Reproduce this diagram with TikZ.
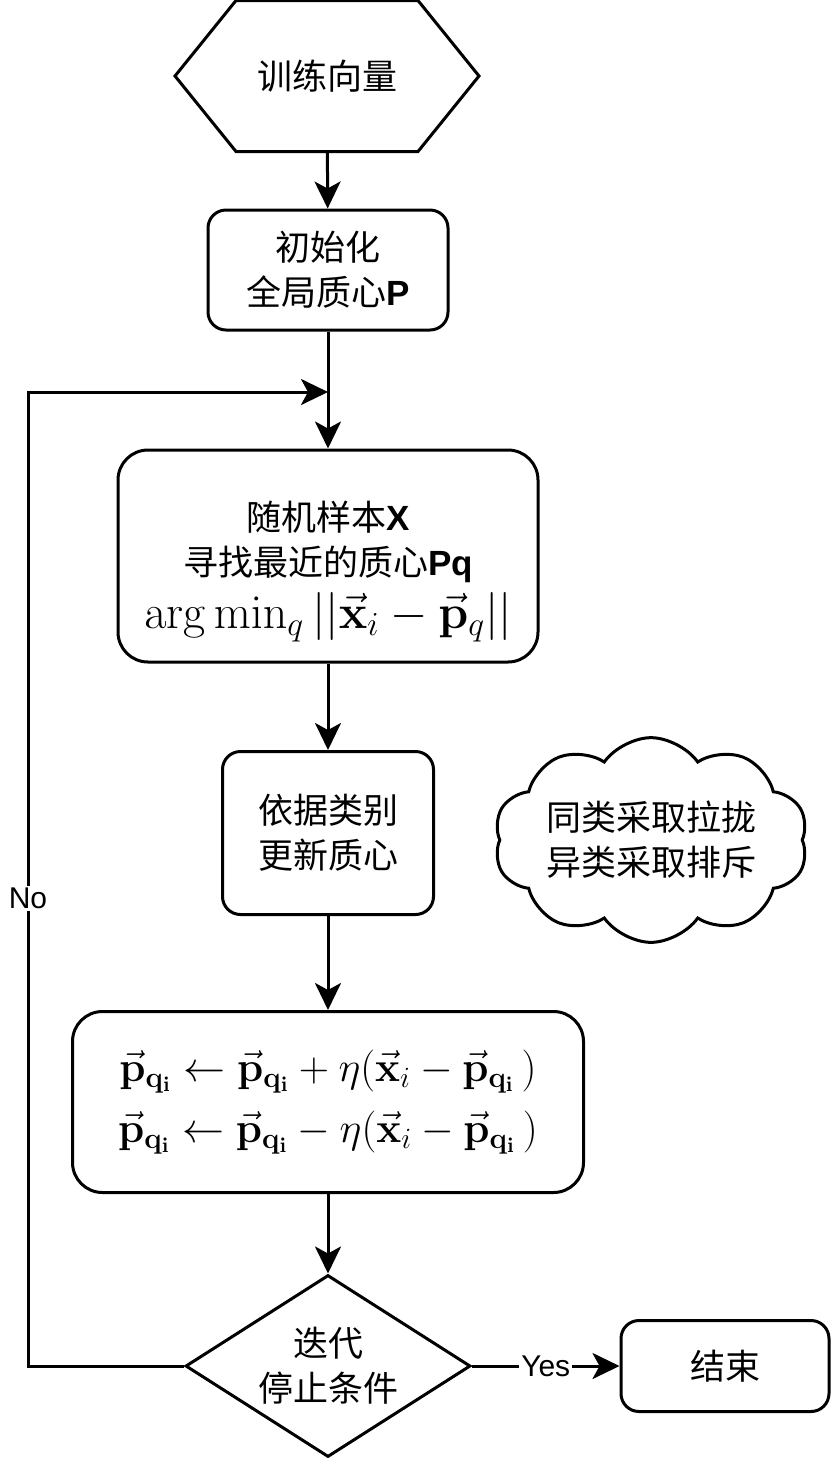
\RequirePackage{fix-cm}
\documentclass[tikz,border=0pt]{standalone}
\usepackage{amsmath}
\usepackage[no-math]{fontspec}
\setmainfont{Liberation Sans}
\newfontfamily\cjk{Noto Sans CJK SC}
\usetikzlibrary{arrows.meta,positioning,shapes.geometric,shapes.symbols}

\tikzset{
  flowbox/.style={draw,rounded corners=#1,align=center,inner sep=0pt,
    font=\fontsize{17.5}{22.5}\selectfont},
  flowbox/.default=9pt,
  flowtext/.style={font=\cjk\fontsize{17.5}{22.5}\selectfont},
  edgetext/.style={fill=white,inner sep=1pt,font=\fontsize{15}{18}\selectfont},
}

\begin{document}
\begin{tikzpicture}[x=0.5pt,y=-0.5pt,line width=1.5pt,
  >={Stealth[length=13.5pt,width=13pt,inset=3.5pt]}]
\useasboundingbox (0,0) rectangle (831,1458);

% input
\node[flowtext,minimum width=150.5pt,minimum height=74pt] (vec) at (327,76) {训练向量};
\draw (vec.west) -- ([xshift=30.5pt]vec.north west) -- ([xshift=-30.5pt]vec.north east)
  -- (vec.east) -- ([xshift=-30.5pt]vec.south east) -- ([xshift=30.5pt]vec.south west) -- cycle;

\node[flowbox,minimum width=120pt,minimum height=60pt] (init) at (328,270)
  {{\cjk 初始化}\\{\cjk 全局质心}\textbf{P}};
\node[flowbox=15pt,minimum width=210pt,minimum height=106pt] (pick) at (328,556)
  {\rule{0pt}{30pt}{\cjk 随机样本}\textbf{X}\\{\cjk 寻找最近的质心}\textbf{Pq}\\[4pt]
   {\fontsize{24}{28}\selectfont$\arg\min_q ||\vec{\mathbf{x}}_i - \vec{\mathbf{p}}_q||$}};
\node[flowbox,minimum width=105.5pt,minimum height=81.5pt] (update) at (328,833)
  {{\cjk 依据类别}\\{\cjk 更新质心}};
\node[cloud,draw,cloud puffs=10,cloud puff arc=110,aspect=1.8,flowtext,align=center,
  minimum width=157pt,minimum height=90pt,inner sep=0pt] (rule) at (651,840)
  {同类采取拉拢\\异类采取排斥};
\node[flowbox=15pt,minimum width=255.5pt,minimum height=90.5pt,
  font=\fontsize{21}{30.5}\selectfont] (move) at (328,1102)
  {$\vec{\mathbf{p}}_{\mathbf{q_i}} \leftarrow \vec{\mathbf{p}}_{\mathbf{q_i}} + \eta(\vec{\mathbf{x}}_i - \vec{\mathbf{p}}_{\mathbf{q_i}}\,)$\\
   $\vec{\mathbf{p}}_{\mathbf{q_i}} \leftarrow \vec{\mathbf{p}}_{\mathbf{q_i}} - \eta(\vec{\mathbf{x}}_i - \vec{\mathbf{p}}_{\mathbf{q_i}}\,)$};
\node[diamond,draw,flowtext,align=center,aspect=1.57,minimum width=142.5pt,minimum height=91pt,
  inner sep=0pt] (stop) at (328,1366) {迭代\\停止条件};
\node[flowbox,minimum width=104pt,minimum height=45.5pt] (finish) at (725,1366) {{\cjk 结束}};

% connectors
\coordinate (join) at (328,392);
\coordinate (turn) at (28,392);
\draw[->] (vec) -- (init);
\draw[->] (init) -- (pick);
\draw[->] (pick) -- (update);
\draw[->] (update) -- (move);
\draw[->] (move) -- (stop);
\draw[->] (stop) -- node[edgetext]{Yes} (finish);
\draw[->] (stop.west) -| node[edgetext,pos=0.74]{No} (turn) -- (join);
\end{tikzpicture}
\end{document}
